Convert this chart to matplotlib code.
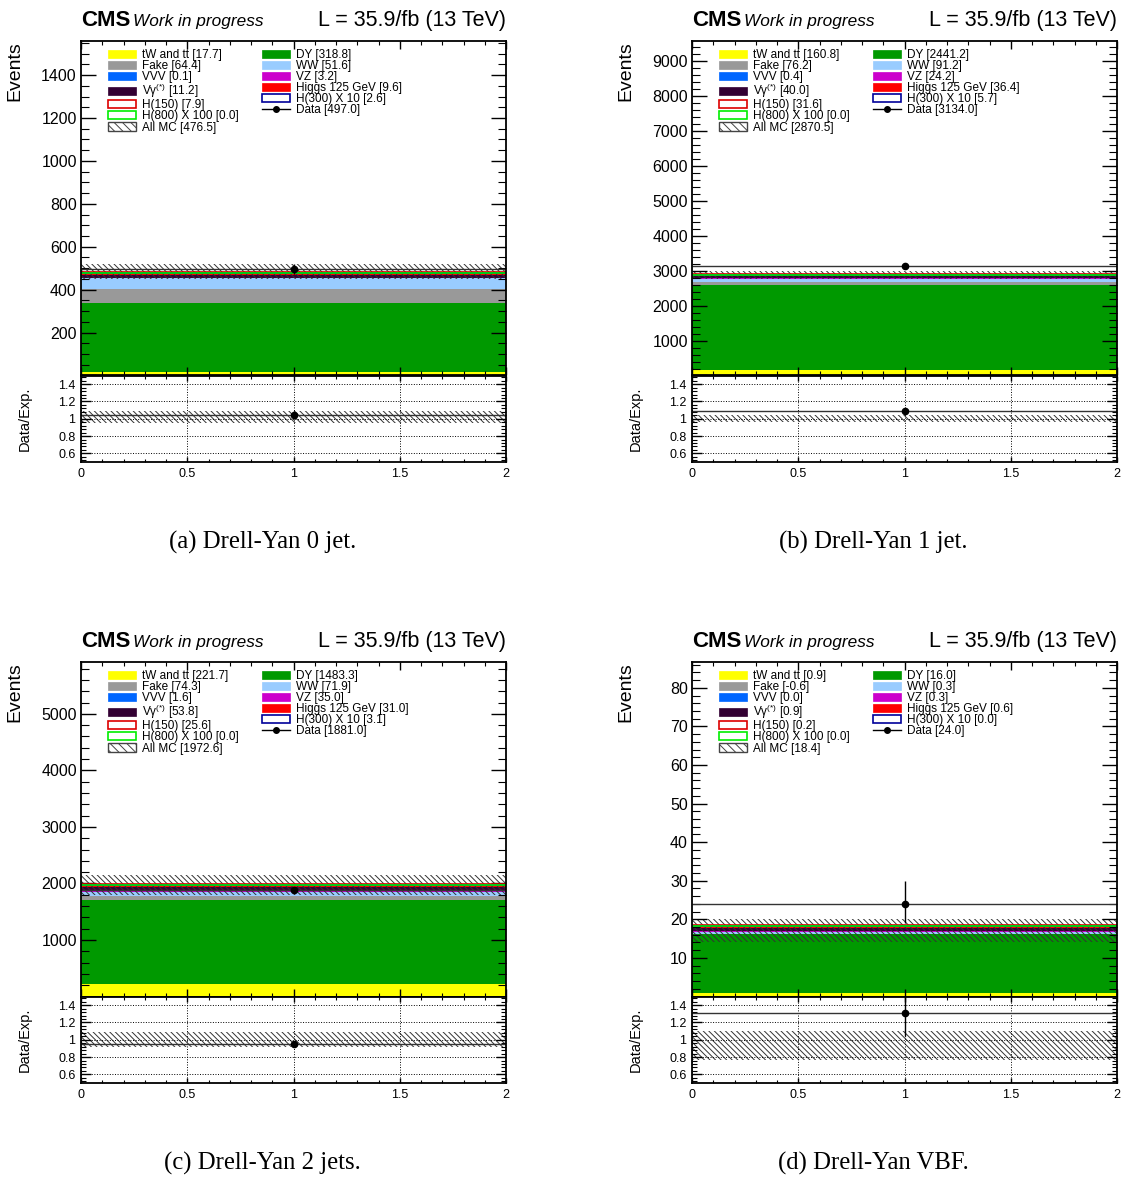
import matplotlib
matplotlib.use("Agg")
import matplotlib.pyplot as plt
from matplotlib.lines import Line2D
from matplotlib.patches import Patch
from matplotlib.ticker import FuncFormatter, MultipleLocator

plt.rcParams["font.family"] = ["Liberation Sans", "DejaVu Sans"]
plt.rcParams["hatch.linewidth"] = 0.7
plt.rcParams["mathtext.fontset"] = "custom"
plt.rcParams["mathtext.rm"] = "Liberation Sans"

# one bin per category, 0 jet / 1 jet / 2 jets / VBF
captions = ["(a) Drell-Yan 0 jet.", "(b) Drell-Yan 1 jet.",
            "(c) Drell-Yan 2 jets.", "(d) Drell-Yan VBF."]
bin_edges = [0.0, 2.0]

tw_tt = [17.7, 160.8, 221.7, 0.9]
dy = [318.8, 2441.2, 1483.3, 16.0]
fake = [64.4, 76.2, 74.3, -0.6]
ww = [51.6, 91.2, 71.9, 0.3]
vvv = [0.1, 0.4, 1.6, 0.0]
vz = [3.2, 24.2, 35.0, 0.3]
vgamma = [11.2, 40.0, 53.8, 0.9]
higgs125 = [9.6, 36.4, 31.0, 0.6]

h150 = [7.9, 31.6, 25.6, 0.2]
h300_x10 = [2.6, 5.7, 3.1, 0.0]
h800_x100 = [0.0, 0.0, 0.0, 0.0]

all_mc = [476.5, 2870.5, 1972.6, 18.4]
mc_lo = [451.0, 2760.0, 1796.0, 14.0]
mc_hi = [518.0, 2990.0, 2150.0, 20.2]

data = [497.0, 3134.0, 1881.0, 24.0]
data_err_lo = [21.8, 55.5, 42.9, 4.86]
data_err_hi = [22.8, 56.5, 43.9, 5.95]

# axis ranges and tick spacing per category
y_top = [1559, 9571, 5918, 86.7]
y_major = [200, 1000, 1000, 10]
y_minor = [50, 200, 200, 2]

# stack order, bottom to top
stack = [
    ("tW and tt", tw_tt, "#ffff00"),
    ("DY", dy, "#009900"),
    ("Fake", fake, "#999999"),
    ("WW", ww, "#99ccff"),
    ("VVV", vvv, "#0066ff"),
    ("VZ", vz, "#cc00cc"),
    ("Vγ$^{(*)}$", vgamma, "#330033"),
    ("Higgs 125 GeV", higgs125, "#ff0000"),
]
signals = [
    ("H(150)", h150, "#dd0000"),
    ("H(300) X 10", h300_x10, "#000099"),
    ("H(800) X 100", h800_x100, "#00ee00"),
]
colors = {name: c for name, _, c in stack + signals}

W, H = 1123, 1178
fig = plt.figure(figsize=(W / 100, H / 100), dpi=100)

col_left = [81, 692]
row_top = [41, 662]
ax_w, main_h, ratio_h = 425, 334.5, 86.5
hatch = "\\" * 6
hatch_color = "#333333"
line_color = "#333333"


def box(left, top, width, height):
    return [left / W, 1 - (top + height) / H, width / W, height / H]


def legend_entries(i):
    def fill(name, values):
        return Patch(facecolor=colors[name], edgecolor=colors[name], lw=0.5), f"{name} [{values[i]:.1f}]"

    def outline(name, values):
        return Patch(facecolor="white", edgecolor=colors[name], lw=1.2), f"{name} [{values[i]:.1f}]"

    col1 = [
        fill("tW and tt", tw_tt),
        fill("Fake", fake),
        fill("VVV", vvv),
        fill("Vγ$^{(*)}$", vgamma),
        outline("H(150)", h150),
        outline("H(800) X 100", h800_x100),
        (Patch(facecolor="white", edgecolor="#444444", hatch="\\" * 4, lw=1.0),
         f"All MC [{all_mc[i]:.1f}]"),
    ]
    col2 = [
        fill("DY", dy),
        fill("WW", ww),
        fill("VZ", vz),
        fill("Higgs 125 GeV", higgs125),
        outline("H(300) X 10", h300_x10),
        (Line2D([0], [0], color="black", marker="o", ms=4, lw=1),
         f"Data [{data[i]:.1f}]"),
    ]
    handles = [h for h, _ in col1 + col2]
    labels = [l for _, l in col1 + col2]
    return handles, labels


def draw_panel(i):
    left = col_left[i % 2]
    top = row_top[i // 2]
    ax = fig.add_axes(box(left, top, ax_w, main_h))
    rax = fig.add_axes(box(left, top + main_h, ax_w, ratio_h), sharex=ax)

    x0, x1 = bin_edges
    width = x1 - x0
    centre = 0.5 * (x0 + x1)

    # stacked backgrounds
    bottom = 0.0
    for name, values, color in stack:
        ax.bar(centre, values[i], width=width, bottom=bottom, color=color, lw=0)
        bottom += values[i]
    total = bottom

    # signals drawn as outlines on top of the stack
    for name, values, color in signals:
        ax.hlines(total + values[i], x0, x1, color=color, lw=1.2)

    # MC uncertainty band
    ax.bar(centre, mc_hi[i] - mc_lo[i], width=width, bottom=mc_lo[i],
           facecolor="none", edgecolor=hatch_color, hatch=hatch, lw=0)

    # data
    ax.hlines(data[i], x0, x1, color=line_color, lw=1)
    ax.errorbar(centre, data[i], yerr=[[data_err_lo[i]], [data_err_hi[i]]],
                fmt="o", color="black", ms=4.5, elinewidth=1, capsize=0)

    ax.set_xlim(x0, x1)
    ax.set_ylim(0, y_top[i])
    ax.yaxis.set_major_locator(MultipleLocator(y_major[i]))
    ax.yaxis.set_minor_locator(MultipleLocator(y_minor[i]))
    ax.yaxis.set_major_formatter(FuncFormatter(lambda v, p: "" if v == 0 else f"{v:g}"))
    ax.xaxis.set_major_locator(MultipleLocator(0.5))
    ax.xaxis.set_minor_locator(MultipleLocator(0.1))
    ax.tick_params(which="both", direction="in", top=True, right=True, labelbottom=False)
    ax.tick_params(axis="y", which="major", length=10.8, width=1, labelsize=11.5, pad=3)
    ax.tick_params(axis="y", which="minor", length=5.5, width=0.8)
    ax.tick_params(axis="x", which="major", length=5.5, width=1)
    ax.tick_params(axis="x", which="minor", length=3, width=0.8)
    for s in ax.spines.values():
        s.set_linewidth(1.3)
    ax.set_ylabel("Events", fontsize=14, loc="top")
    ax.yaxis.set_label_coords(-0.135, 1.0)

    handles, labels = legend_entries(i)
    ax.legend(handles, labels, ncols=2, loc="upper left",
              bbox_to_anchor=(27 / ax_w, 1 - 8 / main_h), frameon=False,
              fontsize=8.5, borderpad=0, borderaxespad=0, handlelength=2.4,
              handleheight=0.7, handletextpad=0.45, columnspacing=2.0,
              labelspacing=-0.08)

    # ratio pad
    ratio = data[i] / all_mc[i]
    rax.bar(centre, (mc_hi[i] - mc_lo[i]) / all_mc[i], width=width,
            bottom=mc_lo[i] / all_mc[i], facecolor="none",
            edgecolor=hatch_color, hatch=hatch, lw=0)
    rax.hlines(ratio, x0, x1, color=line_color, lw=1)
    rax.errorbar(centre, ratio,
                 yerr=[[data_err_lo[i] / all_mc[i]], [data_err_hi[i] / all_mc[i]]],
                 fmt="o", color="black", ms=4.5, elinewidth=1, capsize=0)
    rax.set_ylim(0.5, 1.5)
    rax.yaxis.set_major_locator(MultipleLocator(0.2))
    rax.yaxis.set_minor_locator(MultipleLocator(0.04))
    rax.yaxis.set_major_formatter(FuncFormatter(lambda v, p: f"{v:g}"))
    rax.xaxis.set_major_formatter(FuncFormatter(lambda v, p: f"{v:g}"))
    rax.grid(True, which="major", ls=":", color="black", lw=0.7)
    rax.tick_params(which="both", direction="in", top=True, right=True,
                    labelsize=9, pad=4)
    rax.tick_params(axis="y", which="major", length=7, width=1)
    rax.tick_params(axis="y", which="minor", length=3.5, width=0.8)
    rax.tick_params(axis="x", which="major", length=3.5, width=1)
    rax.tick_params(axis="x", which="minor", length=2, width=0.8)
    for s in rax.spines.values():
        s.set_linewidth(1.3)
    rax.set_ylabel("Data/Exp.", fontsize=10.5)
    rax.yaxis.set_label_coords(-0.115, 0.5)

    # header
    fig.text(left / W, 1 - (top - 15) / H, "CMS", fontsize=16,
             fontweight="bold", va="baseline")
    fig.text((left + 52) / W, 1 - (top - 15) / H, "Work in progress",
             fontsize=12.4, style="italic", va="baseline")
    fig.text((left + ax_w) / W, 1 - (top - 15) / H, "L = 35.9/fb (13 TeV)",
             fontsize=15.5, ha="right", va="baseline")

    # caption
    fig.text((left + 0.5 * ax_w - 31) / W, 1 - (top + 508) / H, captions[i],
             fontsize=17.8, family="Liberation Serif", ha="center", va="baseline")


for i in range(4):
    draw_panel(i)

fig.savefig("out.png", dpi=100)
